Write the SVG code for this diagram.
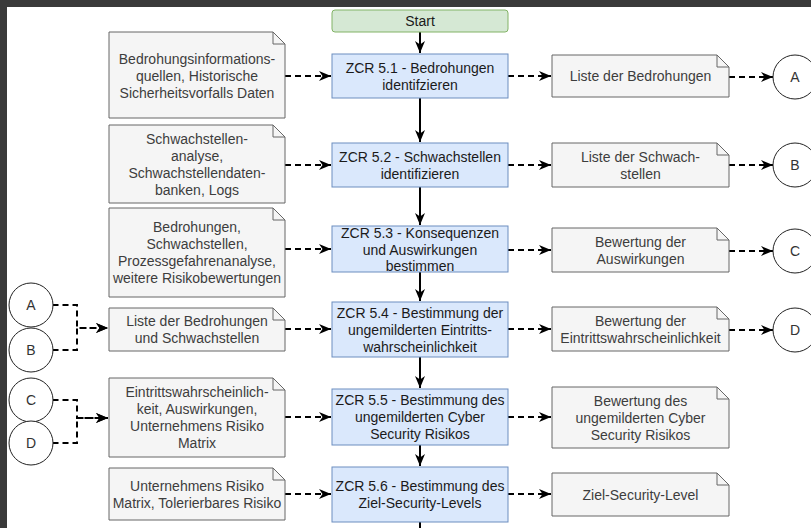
<svg xmlns="http://www.w3.org/2000/svg" width="811" height="528" viewBox="0 0 811 528">
  <defs>
    <marker id="ah" viewBox="0 0 12 12" refX="12" refY="6" markerWidth="12" markerHeight="12" markerUnits="userSpaceOnUse" orient="auto">
      <path d="M0,1 L12,6 L0,11 L3.5,6 Z" fill="#000"/>
    </marker>
    <style>
      .t { font-family: "Liberation Sans", Arial, sans-serif; font-size: 14px; text-anchor: middle; dominant-baseline: central; }
      .proc rect { fill: #dae8fc; stroke: #6c8ebf; stroke-width: 1; }
      .proc text { fill: #1a1a1a; }
      .start rect { fill: #d5e8d4; stroke: #82b366; stroke-width: 1; }
      .start text { fill: #1a1a1a; }
      .doc path { fill: #f5f5f5; stroke: #666; stroke-width: 1; }
      .doc path.fold { fill: none; }
      .doc text { fill: #3d3d3d; }
      .conn circle { fill: #fff; stroke: #222; stroke-width: 1; }
      .conn text { fill: #333; }
      .solid { fill: none; stroke: #000; stroke-width: 2; marker-end: url(#ah); }
      .dash { fill: none; stroke: #000; stroke-width: 2; stroke-dasharray: 6 4; marker-end: url(#ah); }
    </style>
  </defs>

  <rect width="811" height="528" fill="#fff"/>
  <!-- window frame -->
  <rect x="0" y="0" width="811" height="7" fill="#3a3a3a"/>
  <rect x="0" y="0" width="7" height="528" fill="#3a3a3a"/>

  <!-- connectors -->
  <g id="edges">
    <path class="solid" d="M420,32 V53"/>
    <path class="solid" d="M420,98 V142"/>
    <path class="solid" d="M420,187 V225"/>
    <path class="solid" d="M420,272 V301"/>
    <path class="solid" d="M420,357 V388"/>
    <path class="solid" d="M420,445 V466"/>
    <path class="solid" d="M420,522 V545"/>

    <path class="dash" d="M285,76 H331"/>
    <path class="dash" d="M285,165 H331"/>
    <path class="dash" d="M285,249 H331"/>
    <path class="dash" d="M285,329 H331"/>
    <path class="dash" d="M285,417 H331"/>
    <path class="dash" d="M285,494 H331"/>

    <path class="dash" d="M508,76 H551"/>
    <path class="dash" d="M508,165 H551"/>
    <path class="dash" d="M508,250 H551"/>
    <path class="dash" d="M508,329 H551"/>
    <path class="dash" d="M508,417 H551"/>
    <path class="dash" d="M508,494 H551"/>

    <path class="dash" d="M729,77 H773"/>
    <path class="dash" d="M729,165 H773"/>
    <path class="dash" d="M729,251 H773"/>
    <path class="dash" d="M729,330 H773"/>

    <path class="dash" d="M52.5,305 H77 V328 H108"/>
    <path class="dash" d="M52.5,350 H77 V328 H108"/>
    <path class="dash" d="M52.5,400 H77 V418 H108"/>
    <path class="dash" d="M52.5,443 H77 V418 H108"/>
  </g>

  <!-- main process column -->
  <g id="start" class="start">
    <rect x="332" y="10" width="176" height="22" rx="3"/>
    <text class="t" x="420" y="21">Start</text>
  </g>
  <g id="zcr51" class="proc">
    <rect x="332" y="54" width="176" height="44"/>
    <text class="t" x="420" y="67.5">ZCR 5.1 - Bedrohungen</text>
    <text class="t" x="420" y="84.5">identifzieren</text>
  </g>
  <g id="zcr52" class="proc">
    <rect x="332" y="143" width="176" height="44"/>
    <text class="t" x="420" y="156.5">ZCR 5.2 - Schwachstellen</text>
    <text class="t" x="420" y="173.5">identifizieren</text>
  </g>
  <g id="zcr53" class="proc">
    <rect x="332" y="226" width="176" height="46"/>
    <text class="t" x="420" y="233">ZCR 5.3 - Konsequenzen</text>
    <text class="t" x="420" y="249.5">und Auswirkungen</text>
    <text class="t" x="420" y="266">bestimmen</text>
  </g>
  <g id="zcr54" class="proc">
    <rect x="332" y="302" width="176" height="55"/>
    <text class="t" x="420" y="313">ZCR 5.4 - Bestimmung der</text>
    <text class="t" x="420" y="330">ungemilderten Eintritts-</text>
    <text class="t" x="420" y="347">wahrscheinlichkeit</text>
  </g>
  <g id="zcr55" class="proc">
    <rect x="332" y="389" width="176" height="56"/>
    <text class="t" x="420" y="400">ZCR 5.5 - Bestimmung des</text>
    <text class="t" x="420" y="417">ungemilderten Cyber</text>
    <text class="t" x="420" y="434">Security Risikos</text>
  </g>
  <g id="zcr56" class="proc">
    <rect x="332" y="467" width="176" height="55"/>
    <text class="t" x="420" y="486">ZCR 5.6 - Bestimmung des</text>
    <text class="t" x="420" y="503">Ziel-Security-Levels</text>
  </g>

  <!-- input documents -->
  <g id="in51" class="doc">
    <path d="M109,32 H273 L285,44 V118 H109 Z"/>
    <path class="fold" d="M273,32 V44 H285"/>
    <text class="t" x="197" y="59">Bedrohungsinformations-</text>
    <text class="t" x="197" y="76">quellen, Historische</text>
    <text class="t" x="197" y="93">Sicherheitsvorfalls Daten</text>
  </g>
  <g id="in52" class="doc">
    <path d="M109,125 H273 L285,137 V203 H109 Z"/>
    <path class="fold" d="M273,125 V137 H285"/>
    <text class="t" x="197" y="138.5">Schwachstellen-</text>
    <text class="t" x="197" y="155.5">analyse,</text>
    <text class="t" x="197" y="172.5">Schwachstellendaten-</text>
    <text class="t" x="197" y="189.5">banken, Logs</text>
  </g>
  <g id="in53" class="doc">
    <path d="M109,208 H273 L285,220 V297 H109 Z"/>
    <path class="fold" d="M273,208 V220 H285"/>
    <text class="t" x="197" y="227">Bedrohungen,</text>
    <text class="t" x="197" y="244">Schwachstellen,</text>
    <text class="t" x="197" y="261">Prozessgefahrenanalyse,</text>
    <text class="t" x="197" y="278">weitere Risikobewertungen</text>
  </g>
  <g id="in54" class="doc">
    <path d="M109,308 H273 L285,320 V351 H109 Z"/>
    <path class="fold" d="M273,308 V320 H285"/>
    <text class="t" x="197" y="321">Liste der Bedrohungen</text>
    <text class="t" x="197" y="338">und Schwachstellen</text>
  </g>
  <g id="in55" class="doc">
    <path d="M109,378 H273 L285,390 V457 H109 Z"/>
    <path class="fold" d="M273,378 V390 H285"/>
    <text class="t" x="197" y="392">Eintrittswahrscheinlich-</text>
    <text class="t" x="197" y="409">keit, Auswirkungen,</text>
    <text class="t" x="197" y="426">Unternehmens Risiko</text>
    <text class="t" x="197" y="443">Matrix</text>
  </g>
  <g id="in56" class="doc">
    <path d="M109,468 H273 L285,480 V520 H109 Z"/>
    <path class="fold" d="M273,468 V480 H285"/>
    <text class="t" x="197" y="485.5">Unternehmens Risiko</text>
    <text class="t" x="197" y="502.5">Matrix, Tolerierbares Risiko</text>
  </g>

  <!-- output documents -->
  <g id="out51" class="doc">
    <path d="M552,55 H717 L729,67 V97 H552 Z"/>
    <path class="fold" d="M717,55 V67 H729"/>
    <text class="t" x="640.5" y="76">Liste der Bedrohungen</text>
  </g>
  <g id="out52" class="doc">
    <path d="M552,143 H717 L729,155 V187 H552 Z"/>
    <path class="fold" d="M717,143 V155 H729"/>
    <text class="t" x="640.5" y="156.5">Liste der Schwach-</text>
    <text class="t" x="640.5" y="173.5">stellen</text>
  </g>
  <g id="out53" class="doc">
    <path d="M552,228 H717 L729,240 V272 H552 Z"/>
    <path class="fold" d="M717,228 V240 H729"/>
    <text class="t" x="640.5" y="241.5">Bewertung der</text>
    <text class="t" x="640.5" y="258.5">Auswirkungen</text>
  </g>
  <g id="out54" class="doc">
    <path d="M552,307 H717 L729,319 V351 H552 Z"/>
    <path class="fold" d="M717,307 V319 H729"/>
    <text class="t" x="640.5" y="320.5">Bewertung der</text>
    <text class="t" x="640.5" y="337.5">Eintrittswahrscheinlichkeit</text>
  </g>
  <g id="out55" class="doc">
    <path d="M552,387 H717 L729,399 V448 H552 Z"/>
    <path class="fold" d="M717,387 V399 H729"/>
    <text class="t" x="640.5" y="400.5">Bewertung des</text>
    <text class="t" x="640.5" y="417.5">ungemilderten Cyber</text>
    <text class="t" x="640.5" y="434.5">Security Risikos</text>
  </g>
  <g id="out56" class="doc">
    <path d="M552,473 H717 L729,485 V516 H552 Z"/>
    <path class="fold" d="M717,473 V485 H729"/>
    <text class="t" x="640.5" y="494.5">Ziel-Security-Level</text>
  </g>

  <!-- off-page connectors -->
  <g id="refA_out" class="conn">
    <circle cx="795" cy="77" r="22"/>
    <text class="t" x="795" y="77">A</text>
  </g>
  <g id="refB_out" class="conn">
    <circle cx="795" cy="165" r="22"/>
    <text class="t" x="795" y="165">B</text>
  </g>
  <g id="refC_out" class="conn">
    <circle cx="795" cy="251" r="22"/>
    <text class="t" x="795" y="251">C</text>
  </g>
  <g id="refD_out" class="conn">
    <circle cx="795" cy="330" r="22"/>
    <text class="t" x="795" y="330">D</text>
  </g>
  <g id="refA_in" class="conn">
    <circle cx="31" cy="305" r="22"/>
    <text class="t" x="31" y="305">A</text>
  </g>
  <g id="refB_in" class="conn">
    <circle cx="31" cy="350" r="22"/>
    <text class="t" x="31" y="350">B</text>
  </g>
  <g id="refC_in" class="conn">
    <circle cx="31" cy="400" r="22"/>
    <text class="t" x="31" y="400">C</text>
  </g>
  <g id="refD_in" class="conn">
    <circle cx="31" cy="443" r="22"/>
    <text class="t" x="31" y="443">D</text>
  </g>
</svg>
